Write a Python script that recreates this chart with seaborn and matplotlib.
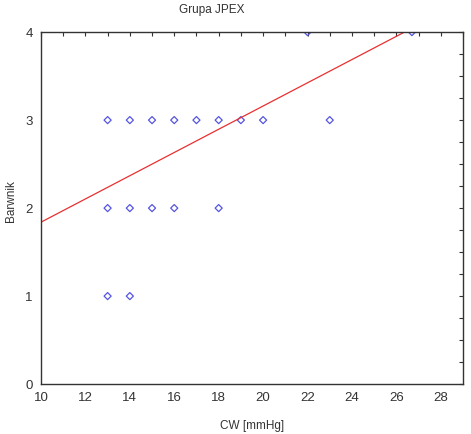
import matplotlib
matplotlib.use("Agg")
import matplotlib.pyplot as plt
import seaborn as sns
import numpy as np
import pandas as pd
from matplotlib.ticker import MultipleLocator

# Data
cw = [13, 14, 15, 16, 17, 18, 19, 20, 23,
      13, 14, 15, 16, 18,
      13, 14,
      22, 26.7]
barwnik = [3, 3, 3, 3, 3, 3, 3, 3, 3,
           2, 2, 2, 2, 2,
           1, 1,
           4, 4]
# regression line coefficients
fit_intercept = 0.52
fit_slope = 0.132

df = pd.DataFrame({"CW": cw, "Barwnik": barwnik})

sns.set_style("white")
plt.rcParams['font.family'] = ['Liberation Sans', 'DejaVu Sans']

fig = plt.figure(figsize=(4.71, 4.34), dpi=100)
ax = fig.add_axes([0.087, 0.115, 0.896, 0.811])

sns.scatterplot(data=df, x="CW", y="Barwnik", marker="D", s=13,
                facecolor="none", edgecolor="#5555e0", linewidth=0.9, ax=ax)

xl = np.array([10, 29])
line_df = pd.DataFrame({"x": xl, "y": fit_intercept + fit_slope * xl})
sns.lineplot(data=line_df, x="x", y="y", color="#e83030", linewidth=0.9, ax=ax)

ax.set_xlim(10, 29)
ax.set_ylim(0, 4)
ax.xaxis.set_major_locator(MultipleLocator(2))
ax.xaxis.set_minor_locator(MultipleLocator(1))
ax.yaxis.set_major_locator(MultipleLocator(1))
ax.yaxis.set_minor_locator(MultipleLocator(0.25))
ax.tick_params(which="both", direction="in", top=True, right=True,
               length=3, width=0.8, color="#333333", labelsize=9.5,
               labelcolor="#333333")
ax.tick_params(axis="x", pad=6)
ax.tick_params(axis="y", pad=6)
for s in ax.spines.values():
    s.set_color("#333333")
    s.set_linewidth(1.0)

ax.set_xlabel("CW [mmHg]", fontsize=8.5, color="#333333", labelpad=11)
ax.set_ylabel("Barwnik", fontsize=8.5, color="#333333")
ax.yaxis.set_label_coords(-0.058, 0.52)
fig.text(0.45, 0.99, "Grupa JPEX", ha="center", va="top", fontsize=8.5,
         color="#333333")

fig.savefig("out.png", dpi=100)
